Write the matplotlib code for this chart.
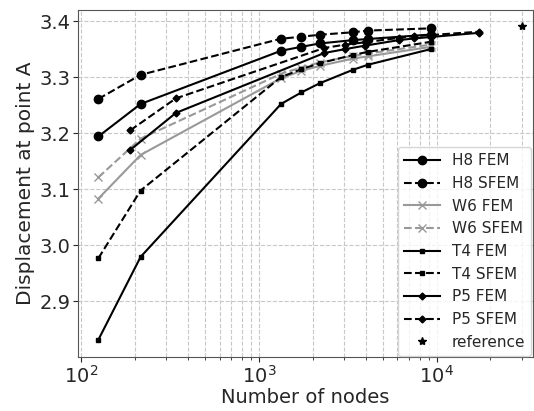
import matplotlib
matplotlib.use('Agg')
import matplotlib.pyplot as plt

# node counts of the meshes
nodes_hex = [125, 216, 1331, 1728, 2197, 3375, 4096, 9261]
nodes_pyr = [189, 341, 2331, 3059, 3925, 6119, 7471, 17261]

# displacement values
h8_fem = [3.194, 3.252, 3.347, 3.354, 3.360, 3.366, 3.368, 3.376]
h8_sfem = [3.261, 3.304, 3.3685, 3.372, 3.3756, 3.380, 3.383, 3.387]
w6_fem = [3.083, 3.161, 3.298, 3.311, 3.320, 3.333, 3.337, 3.354]
w6_sfem = [3.121, 3.190, 3.306, 3.317, 3.326, 3.338, 3.342, 3.358]
t4_fem = [2.831, 2.979, 3.252, 3.2725, 3.289, 3.313, 3.322, 3.350]
t4_sfem = [2.9765, 3.0975, 3.300, 3.314, 3.3247, 3.3395, 3.345, 3.363]
p5_fem = [3.170, 3.236, 3.343, 3.350, 3.356, 3.366, 3.369, 3.379]
p5_sfem = [3.205, 3.262, 3.352, 3.358, 3.362, 3.370, 3.373, 3.381]
ref_nodes = [30000]
ref_value = [3.392]

plt.rcParams['font.family'] = ['DejaVu Sans']
plt.rcParams['text.color'] = '#262626'
plt.rcParams['axes.labelcolor'] = '#262626'
plt.rcParams['xtick.color'] = '#262626'
plt.rcParams['ytick.color'] = '#262626'

fig = plt.figure(figsize=(5.34, 4.11), dpi=100)
ax = fig.add_axes([0.146, 0.131, 0.852, 0.845])

gray = '#999999'
ax.plot(nodes_hex, h8_fem, '-', color='k', marker='o', ms=6, lw=1.5, label='H8 FEM')
ax.plot(nodes_hex, h8_sfem, '--', color='k', marker='o', ms=6, lw=1.5, label='H8 SFEM')
ax.plot(nodes_hex, w6_fem, '-', color=gray, marker='x', ms=6, lw=1.5, label='W6 FEM')
ax.plot(nodes_hex, w6_sfem, '--', color=gray, marker='x', ms=6, lw=1.5, label='W6 SFEM')
ax.plot(nodes_hex, t4_fem, '-', color='k', marker='s', ms=3.5, lw=1.5, label='T4 FEM')
ax.plot(nodes_hex, t4_sfem, '--', color='k', marker='s', ms=3.5, lw=1.5, label='T4 SFEM')
ax.plot(nodes_pyr, p5_fem, '-', color='k', marker='D', ms=3.5, lw=1.5, label='P5 FEM')
ax.plot(nodes_pyr, p5_sfem, '--', color='k', marker='D', ms=3.5, lw=1.5, label='P5 SFEM')
ax.plot(ref_nodes, ref_value, '*', color='k', ms=6, label='reference')

ax.set_xscale('log')
ax.set_xlim(96, 34700)
ax.set_ylim(2.80, 3.42)
ax.set_yticks([2.9, 3.0, 3.1, 3.2, 3.3, 3.4])

ax.grid(True, which='major', ls='--', color='#c8c8c8', lw=0.8)
ax.grid(True, which='minor', axis='x', ls='--', color='#c8c8c8', lw=0.8)
ax.set_axisbelow(True)
for s in ax.spines.values():
    s.set_color('#555555')

ax.tick_params(labelsize=14, pad=2)
ax.set_xlabel('Number of nodes', fontsize=14, labelpad=1)
ax.set_ylabel('Displacement at point A', fontsize=14.5, labelpad=3)
ax.legend(loc='lower right', fontsize=11, handlelength=2.3, borderaxespad=0.1)

fig.savefig('out.png', dpi=100)
